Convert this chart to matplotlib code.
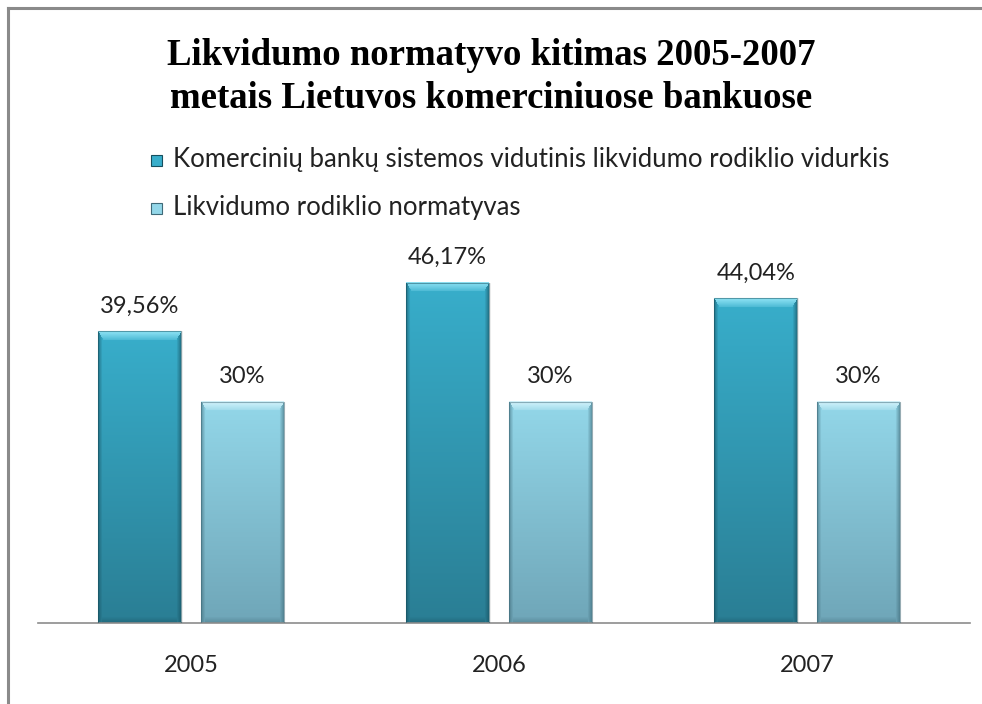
import numpy as np
import matplotlib
matplotlib.use("Agg")
import matplotlib.pyplot as plt
from matplotlib.patches import Rectangle
from matplotlib.lines import Line2D

categories = ["2005", "2006", "2007"]
series_names = ["Komercinių bankų sistemos vidutinis likvidumo rodiklio vidurkis",
                "Likvidumo rodiklio normatyvas"]
avg_values = [39.56, 46.17, 44.04]
norm_values = [30, 30, 30]
value_labels_avg = ["39,56%", "46,17%", "44,04%"]
value_labels_norm = ["30%", "30%", "30%"]
title = "Likvidumo normatyvo kitimas 2005-2007\nmetais Lietuvos komerciniuose bankuose"

W, H = 982, 704
fig = plt.figure(figsize=(W / 100, H / 100), dpi=100)
fig.patch.set_facecolor("white")

# frame (top and left visible)
fig.add_artist(Line2D([8 / W, 1], [1 - 8 / H, 1 - 8 / H], color="#8a8a8a", lw=2.2))
fig.add_artist(Line2D([8 / W, 8 / W], [0, 1 - 8 / H], color="#8a8a8a", lw=2.2))

ax_left, ax_right = 38 / W, 970 / W
cat_px = 308.0
xlo = -153 / cat_px
xhi = xlo + (970 - 38) / cat_px
ax_bottom = 1 - 623 / H
ymax = 50
px_per = 7.37
ax_top = 1 - (623 - ymax * px_per) / H
ax = fig.add_axes([ax_left, ax_bottom, ax_right - ax_left, ax_top - ax_bottom])
ax.set_xlim(xlo, xhi)
ax.set_ylim(0, ymax)
for s in ["top", "right", "left"]:
    ax.spines[s].set_visible(False)
ax.spines["bottom"].set_color("#8c8c8c")
ax.spines["bottom"].set_linewidth(1.2)
ax.set_yticks([])
x = np.arange(len(categories))
ax.set_xticks(x)
ax.set_xticklabels(categories, fontsize=17, family="Lato", color="#222222")
ax.tick_params(axis="x", length=0, pad=23)

bw = 0.268
off = bw / 2 + 0.0325


def grad_image(w_px, h_px, top, bottom, bevel_light, edge_dark):
    h_px = max(int(h_px), 2)
    w_px = max(int(w_px), 2)
    t = np.linspace(0, 1, h_px)[:, None]
    top = np.array(top); bottom = np.array(bottom)
    img = top[None, None, :] * (1 - t[..., None]) + bottom[None, None, :] * t[..., None]
    img = np.repeat(img, w_px, axis=1)
    yy, xx = np.mgrid[0:h_px, 0:w_px]
    bv = 9
    light = np.array(bevel_light)
    dark = np.array(edge_dark)
    topmask = (yy < bv) & (xx >= yy * 0.6) & (xx < w_px - yy * 0.6)
    f = (1 - yy / bv)[..., None] * 0.8 + 0.2
    img = np.where(topmask[..., None], img * (1 - f) + light * f, img)
    side = np.minimum(xx, w_px - 1 - xx)
    sidemask = (side < 4) & ~topmask
    g = (1 - side / 4)[..., None] * 0.55
    img = np.where(sidemask[..., None], img * (1 - g) + dark * g, img)
    bb = h_px - 1 - yy
    botmask = (bb < 6) & ~sidemask
    g2 = (1 - bb / 6)[..., None] * 0.4
    img = np.where(botmask[..., None], img * (1 - g2) + dark * g2, img)
    return np.clip(img, 0, 1)


def hexrgb(h):
    h = h.lstrip("#")
    return [int(h[i:i + 2], 16) / 255 for i in (0, 2, 4)]


styles = [
    dict(top=hexrgb("#38aecb"), bottom=hexrgb("#2a7e94"), light=hexrgb("#8fe3f5"), dark=hexrgb("#164f5e")),
    dict(top=hexrgb("#93d7e9"), bottom=hexrgb("#6fa6b8"), light=hexrgb("#d4f3fb"), dark=hexrgb("#3f6a78")),
]

bars1 = ax.bar(x - off, avg_values, bw, color="none", zorder=2)
bars2 = ax.bar(x + off, norm_values, bw, color="none", zorder=2)

for bars, st in [(bars1, styles[0]), (bars2, styles[1])]:
    for b in bars:
        x0, y0 = b.get_x(), b.get_y()
        w, h = b.get_width(), b.get_height()
        wpx = w * cat_px
        hpx = h * px_per
        img = grad_image(wpx, hpx, st["top"], st["bottom"], st["light"], st["dark"])
        ax.imshow(img, extent=[x0, x0 + w, y0, y0 + h], aspect="auto", zorder=2,
                  interpolation="bilinear")
        ax.add_patch(Rectangle((x0 + 0.006, y0), w, h, facecolor="#000000", alpha=0.06,
                               edgecolor="none", zorder=1))
        ax.add_patch(Rectangle((x0, y0), w, h, facecolor="none",
                               edgecolor=st["dark"] + [0.5], lw=0.8, zorder=3))

ax.set_xlim(xlo, xhi)
ax.set_ylim(0, ymax)

for bars, labs in [(bars1, value_labels_avg), (bars2, value_labels_norm)]:
    for b, lab in zip(bars, labs):
        ax.annotate(lab, (b.get_x() + b.get_width() / 2, b.get_height()), xytext=(0, 18),
                    textcoords="offset points", ha="center", va="center", fontsize=17,
                    family="Lato", color="#222222")

fig.text(0.5, 1 - 77 / H, title, ha="center", va="center", fontsize=26.5, weight="bold",
         family="Liberation Serif", linespacing=1.32, color="black")

# legend
leg_y = [160, 208]
for i, (name, st) in enumerate(zip(series_names, styles)):
    yy = 1 - leg_y[i] / H
    sq = 11
    fig.add_artist(Rectangle((151 / W, yy - sq / 2 / H), sq / W, sq / H,
                             facecolor=st["top"], edgecolor=st["dark"], lw=0.8,
                             transform=fig.transFigure))
    fig.text(173 / W, yy, name, ha="left", va="center", fontsize=18.5, family="Lato",
             color="#222222")

fig.savefig("out.png", dpi=100, facecolor="white")
